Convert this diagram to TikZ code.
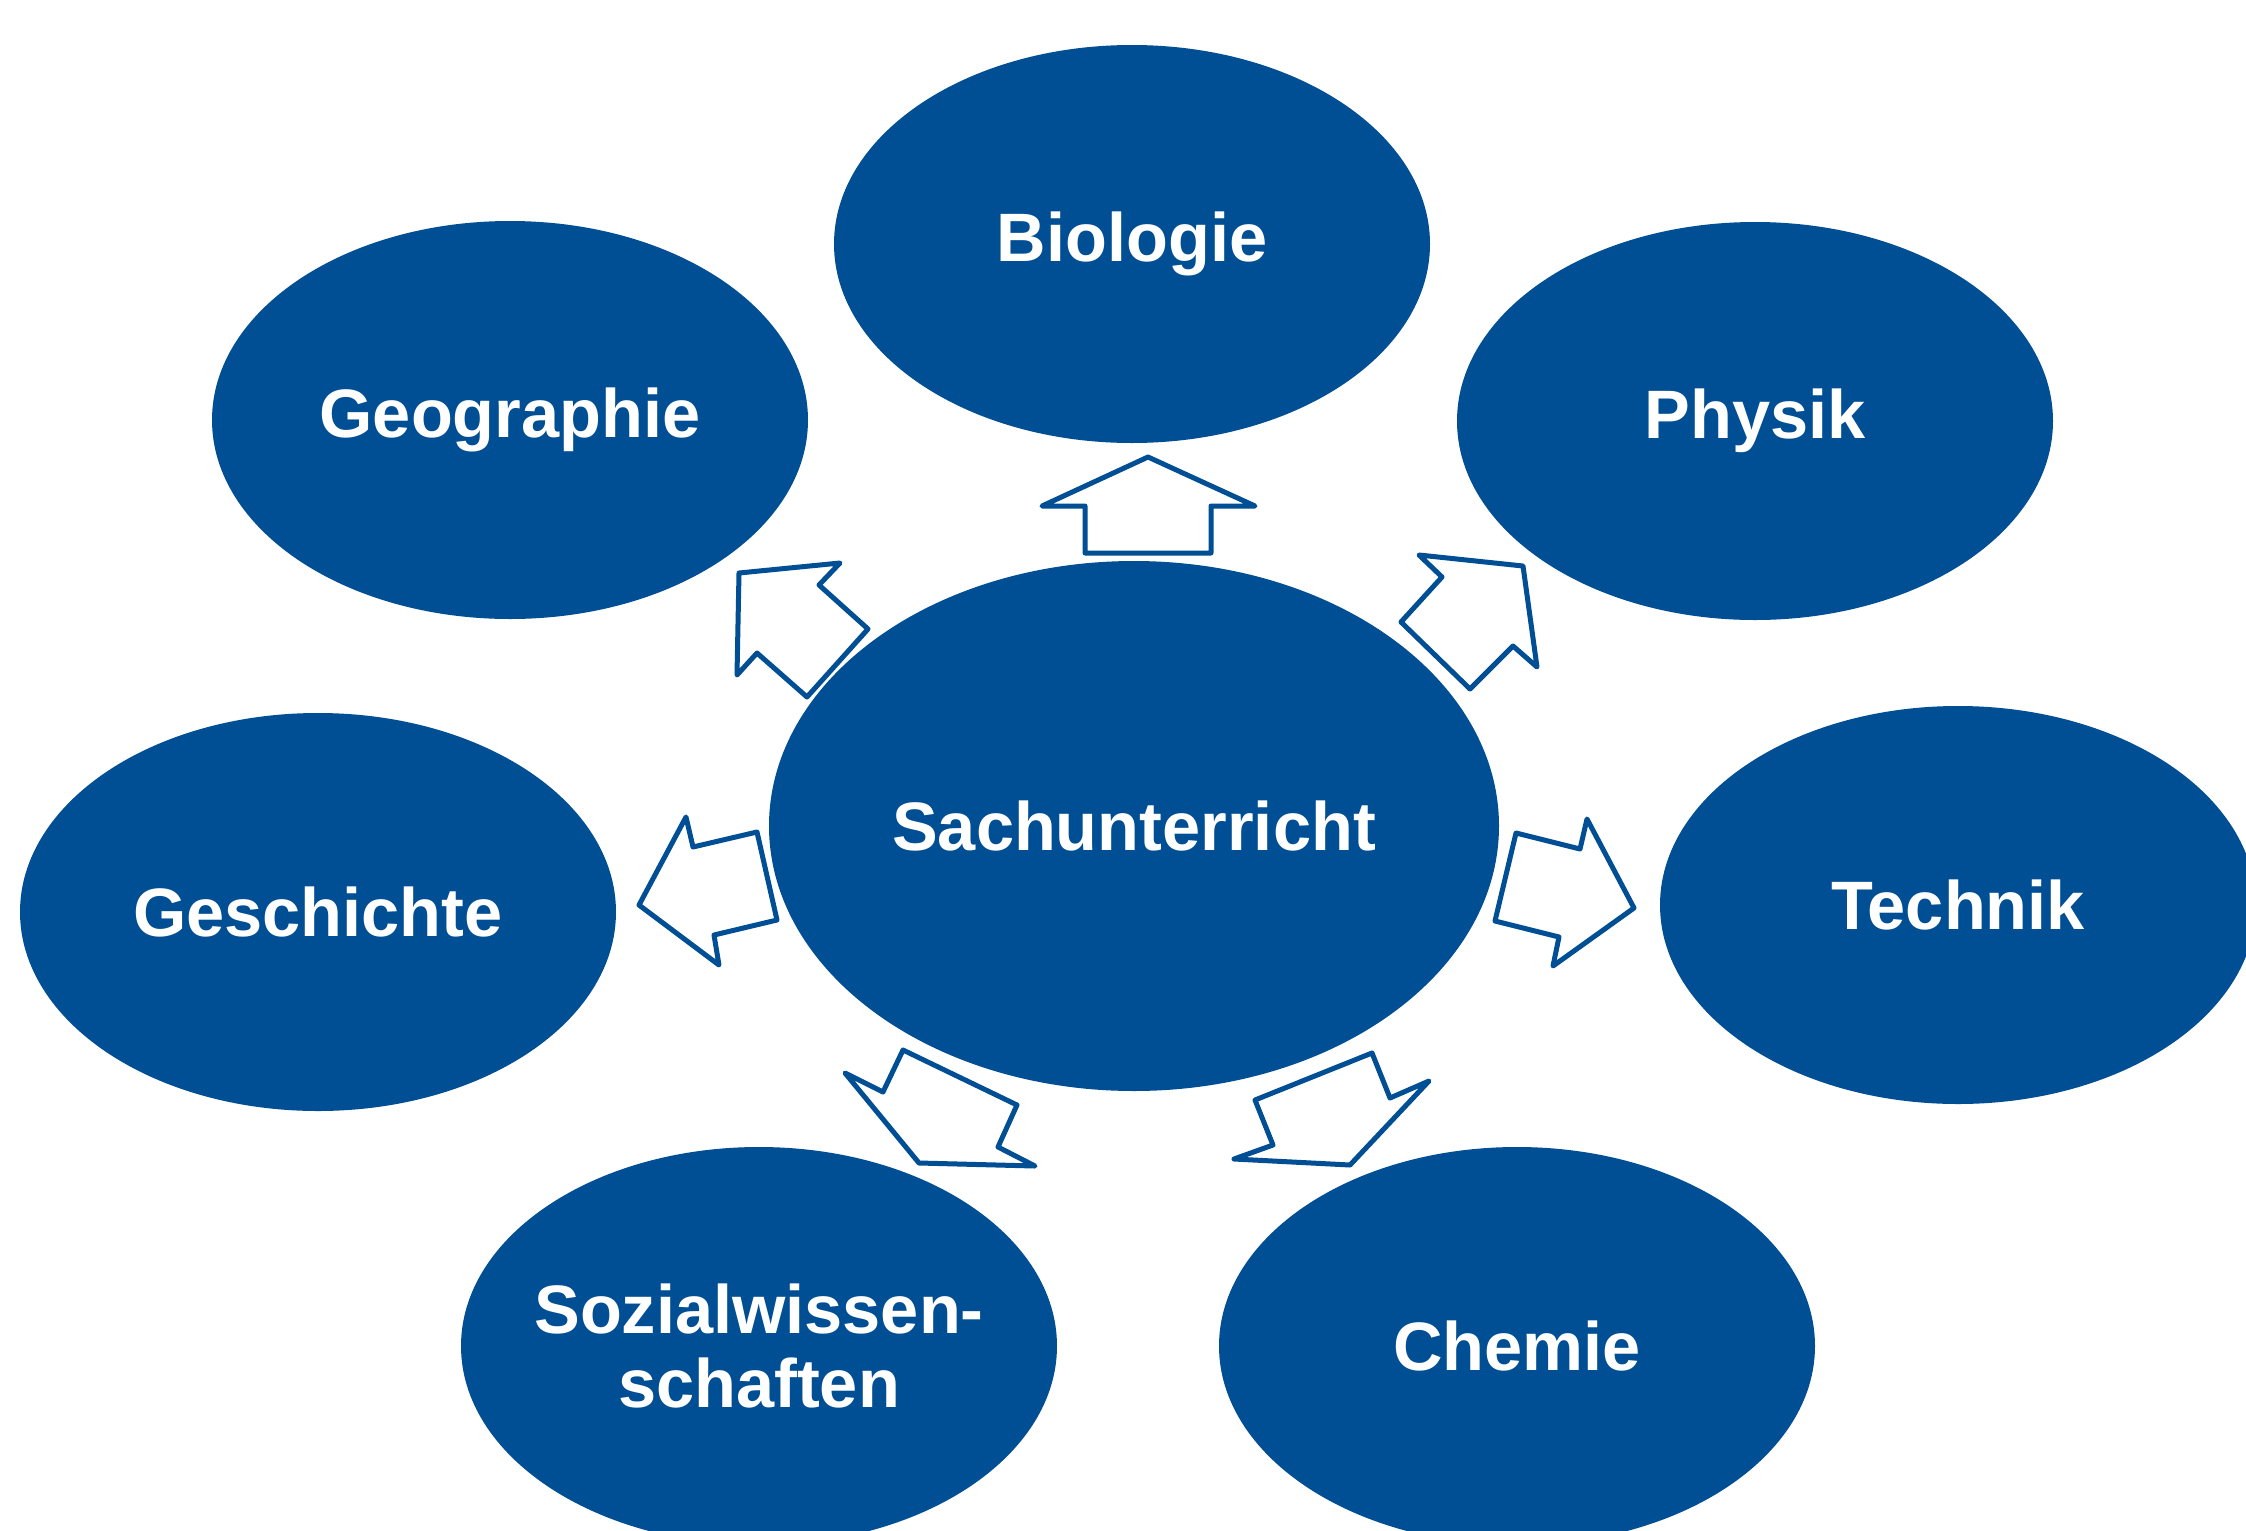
\documentclass[tikz,border=0pt]{standalone}
\usepackage{fontspec}
\setmainfont{Liberation Sans}
\usepackage{tikz}
\usetikzlibrary{shapes.geometric}
\definecolor{blau}{RGB}{0,78,148}
\tikzset{
  fach/.style={ellipse,fill=blau,draw=none,inner sep=-10mm,
    minimum width=59.6mm,minimum height=39.8mm,text=white,align=center,
    font=\fontsize{19.5}{21.2}\selectfont\bfseries},
  mitte/.style={fach,minimum width=73mm,minimum height=53mm},
  pfeil/.style={draw=blau,line width=0.5mm,line join=round,fill=white}
}
\begin{document}
\begin{tikzpicture}[x=0.1mm,y=-0.1mm]
        \clip (0,0) rectangle (2246,1531);
        \fill[white] (0,0) rectangle (2246,1531);
        \node[fach] at (1132,244) (bio) {Biologie};
        \node[fach] at (510,420) (geo) {Geographie};
        \node[fach] at (1755,421) (phy) {Physik};
        \node[mitte] at (1134,826) (sach) {Sachunterricht};
        \node[fach] at (318,912) (ges) {Geschichte};
        \node[fach] at (1958,905) (tec) {Technik};
        \node[fach] at (759,1346) (soz) {Sozialwissen-\\schaften};
        \node[fach] at (1517,1346) (che) {Chemie};
        % Pfeile
        \draw[pfeil] (1148,457) -- (1255,506) -- (1211,506) -- (1211,553)
          -- (1085,553) -- (1085,506) -- (1042,506) -- cycle;
        \draw[pfeil] (739,573) -- (840,563) -- (819,585) -- (868,629)
          -- (807,697) -- (757,653) -- (737,675) -- cycle;
        \draw[pfeil] (1523,566) -- (1537,667) -- (1513,646) -- (1470,689)
          -- (1401,622) -- (1442,577) -- (1419,555) -- cycle;
        \draw[pfeil] (639,905) -- (686,817) -- (693,847) -- (757,832)
          -- (777,920) -- (714,935) -- (719,965) -- cycle;
        \draw[pfeil] (1634,908) -- (1553,966) -- (1559,937) -- (1495,921)
          -- (1516,833) -- (1580,849) -- (1587,819) -- cycle;
        \draw[pfeil] (919,1163) -- (845,1073) -- (883,1092) -- (903,1050)
          -- (1017,1105) -- (998,1147) -- (1035,1166) -- cycle;
        \draw[pfeil] (1350,1165) -- (1234,1159) -- (1273,1145) -- (1255,1100)
          -- (1372,1053) -- (1390,1098) -- (1429,1081) -- cycle;
\end{tikzpicture}
\end{document}
